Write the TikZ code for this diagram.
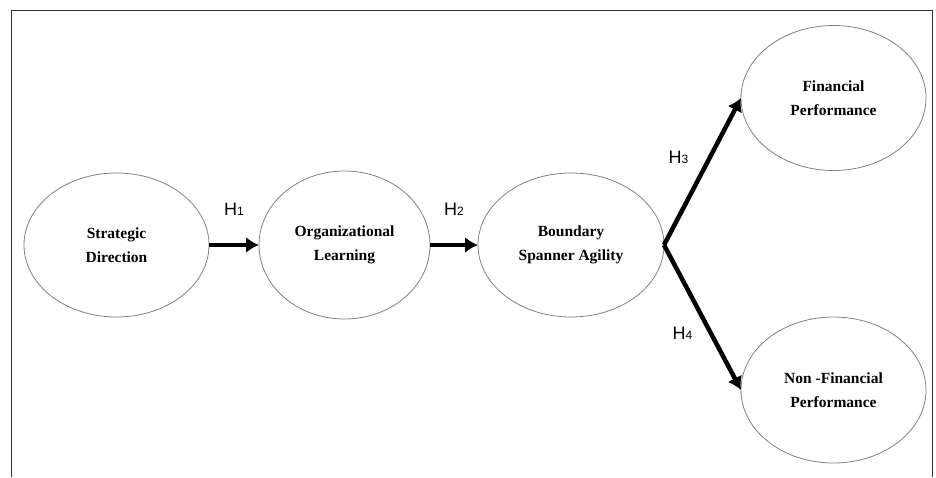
\documentclass[tikz,border=0pt]{standalone}
\usepackage{fontspec}
\setmainfont{Liberation Serif}
\newfontfamily\hypfont{Liberation Sans}
\usepackage{tikz}
\tikzset{
construct/.style={draw=gray, line width=0.8pt, ellipse, inner sep=0pt, outer sep=0pt,
  align=center, font=\fontsize{15.5}{24}\selectfont\bfseries},
hyp/.style={-{Latex[length=13pt, width=16pt]}, line width=4.5pt},
hlabel/.style={inner sep=0pt, font=\hypfont\fontsize{18}{18}\selectfont},
outline/.style={draw=gray!40!black, line width=1pt}
}
\usetikzlibrary{positioning, shapes.geometric, arrows.meta}
\newcommand{\hname}[1]{H{\fontsize{12}{12}\selectfont #1}}

\begin{document}
\begin{tikzpicture}[x=1pt, y=1pt, node distance=49pt]
			\useasboundingbox (0,0) rectangle (936,477);
			\draw[outline] (11,0) -- (11,466) -- (932,466) -- (932,0);
			\node[construct, minimum width=185pt, minimum height=144pt] (sd) at (116.5,232) {Strategic\\Direction};
			\node[construct, minimum width=171pt, minimum height=148pt, right = 50pt of sd] (ol) {Organizational\\Learning};
			\node[construct, minimum width=186pt, minimum height=144pt, right = 48pt of ol] (bsa) {Boundary\\Spanner Agility};
			\node[construct, minimum width=185pt, minimum height=145pt, right = 77pt of bsa, yshift=147pt] (fp) {Financial\\Performance};
			\node[construct, minimum width=185pt, minimum height=146pt, right = 77pt of bsa, yshift=-145pt] (nfp) {Non -Financial\\Performance};
			% ----
			\draw[hyp] (sd) -- node[hlabel, above=27pt] (h1) {\hname{1}} (ol);
			\draw[hyp] (ol) -- node[hlabel, above=27pt] (h2) {\hname{2}} (bsa);
			\draw[hyp] (bsa.east) -- node[hlabel, xshift=-24pt, yshift=14pt] (h3) {\hname{3}} (fp.west);
			\draw[hyp] (bsa.east) -- node[hlabel, xshift=-20pt, yshift=-16pt] (h4) {\hname{4}} (nfp.west);
\end{tikzpicture}
\end{document}
